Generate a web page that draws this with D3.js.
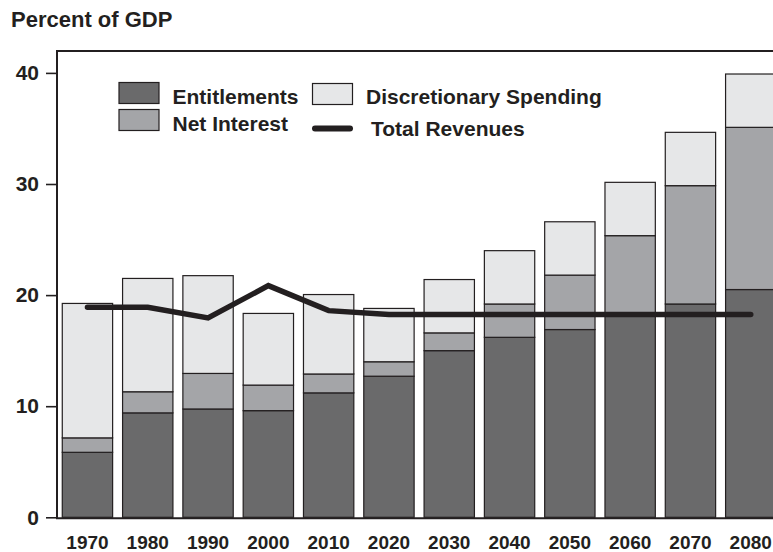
<!DOCTYPE html>
<html>
<head>
<meta charset="utf-8">
<script src="https://cdn.jsdelivr.net/npm/d3@7/dist/d3.min.js"></script>
<style>
  html, body { margin: 0; padding: 0; background: #fff; }
  svg { display: block; font-family: "Liberation Sans", Arial, Helvetica, sans-serif; font-weight: bold; }
</style>
</head>
<body>
<svg id="chart" width="773" height="552"></svg>
<script>
// ---- Data (percent of GDP) ----
const years = ["1970","1980","1990","2000","2010","2020","2030","2040","2050","2060","2070","2080"];
const entitlements  = [5.85, 9.4, 9.75, 9.6, 11.2, 12.7, 15.0, 16.2, 16.9, 18.2, 19.2, 20.5];
const netInterest   = [1.3, 1.9, 3.2, 2.3, 1.7, 1.3, 1.6, 3.0, 4.9, 7.15, 10.65, 14.6];
const discretionary = [12.1, 10.2, 8.8, 6.45, 7.15, 4.8, 4.8, 4.8, 4.8, 4.8, 4.8, 4.8];
const revenues      = [18.9, 18.9, 17.95, 20.85, 18.6, 18.25, 18.25, 18.25, 18.25, 18.25, 18.25, 18.25];
const yTicks = [0, 10, 20, 30, 40];

const seriesKeys = ["entitlements", "netInterest", "discretionary"];
const seriesNames = { entitlements: "Entitlements", netInterest: "Net Interest", discretionary: "Discretionary Spending" };
const colors = { entitlements: "#6a6a6b", netInterest: "#a4a5a8", discretionary: "#e6e7e8" };

const table = years.map((y, i) => ({
  year: y,
  entitlements: entitlements[i],
  netInterest: netInterest[i],
  discretionary: discretionary[i],
  revenue: revenues[i]
}));

const svg = d3.select("#chart");
const ink = "#231f20";

const x = d3.scaleBand().domain(years).range([57.3, 57.3 + 12 * 60.3]).paddingInner(0.165).paddingOuter(0.0825);
const y = d3.scaleLinear().domain([0, 40]).range([517.3, 72.9]);

const stack = d3.stack().keys(seriesKeys)(table);

// bars
svg.append("g").selectAll("g")
  .data(stack).join("g")
  .attr("fill", d => colors[d.key])
  .selectAll("rect")
  .data(d => d).join("rect")
  .attr("x", d => x(d.data.year))
  .attr("width", x.bandwidth())
  .attr("y", d => y(d[1]))
  .attr("height", d => y(d[0]) - y(d[1]))
  .attr("stroke", ink)
  .attr("stroke-width", 1.2);

// revenue line
const line = d3.line()
  .x(d => x(d.year) + x.bandwidth() / 2)
  .y(d => y(d.revenue));
svg.append("path")
  .datum(table)
  .attr("d", line)
  .attr("fill", "none")
  .attr("stroke", ink)
  .attr("stroke-width", 5.5)
  .attr("stroke-linejoin", "miter")
  .attr("stroke-linecap", "round");

// frame
svg.append("line").attr("x1", 57).attr("x2", 773).attr("y1", 51).attr("y2", 51)
  .attr("stroke", ink).attr("stroke-width", 2);
svg.append("line").attr("x1", 57).attr("x2", 57).attr("y1", 50).attr("y2", 519)
  .attr("stroke", ink).attr("stroke-width", 2);
svg.append("line").attr("x1", 56).attr("x2", 773).attr("y1", 518.2).attr("y2", 518.2)
  .attr("stroke", ink).attr("stroke-width", 2);

// y axis
const yAxis = svg.append("g").attr("transform", "translate(57,0)")
  .call(d3.axisLeft(y).tickValues(yTicks).tickSize(11).tickPadding(7));
yAxis.select(".domain").remove();
yAxis.selectAll(".tick line").attr("stroke", ink).attr("stroke-width", 1.6);
yAxis.selectAll(".tick text")
  .attr("fill", ink)
  .style("font-size", "21px")
  .style("font-weight", "bold")
  .style("font-family", "'Liberation Sans', Arial, Helvetica, sans-serif");

// x axis
const xAxis = svg.append("g").attr("transform", "translate(0,518)")
  .call(d3.axisBottom(x).tickSize(0));
xAxis.select(".domain").remove();
xAxis.selectAll(".tick text")
  .attr("y", 31).attr("dy", 0)
  .attr("fill", ink)
  .style("font-size", "19px")
  .style("font-weight", "bold")
  .style("font-family", "'Liberation Sans', Arial, Helvetica, sans-serif");

// title
svg.append("text").attr("x", 11).attr("y", 27)
  .attr("fill", ink).style("font-size", "22px").text("Percent of GDP");

// legend
const legend = svg.append("g");
const swatches = [
  { key: "entitlements", x: 119, y: 82.5, tx: 172.5, ty: 103.5 },
  { key: "netInterest", x: 119, y: 109.5, tx: 172.5, ty: 130.5 },
  { key: "discretionary", x: 312.5, y: 83.5, tx: 366, ty: 103.5 }
];
swatches.forEach(s => {
  legend.append("rect").attr("x", s.x).attr("y", s.y).attr("width", 40).attr("height", 21)
    .attr("fill", colors[s.key]).attr("stroke", ink).attr("stroke-width", 1.2);
  legend.append("text").attr("x", s.tx).attr("y", s.ty)
    .attr("fill", ink).style("font-size", "21px").text(seriesNames[s.key]);
});
legend.append("line").attr("x1", 315).attr("x2", 350).attr("y1", 128.5).attr("y2", 128.5)
  .attr("stroke", ink).attr("stroke-width", 6).attr("stroke-linecap", "round");
legend.append("text").attr("x", 371).attr("y", 136)
  .attr("fill", ink).style("font-size", "21px").text("Total Revenues");
</script>
</body>
</html>
